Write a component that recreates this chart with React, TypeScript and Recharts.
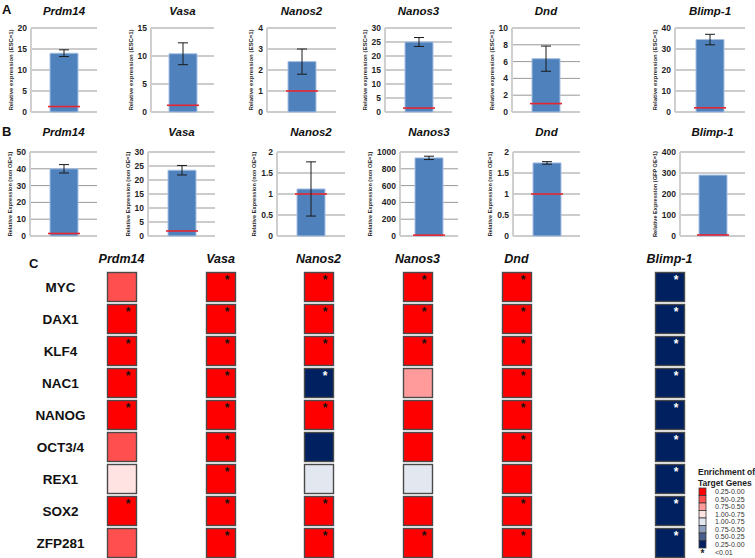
import { BarChart, Bar, XAxis, YAxis, CartesianGrid, ErrorBar, ScatterChart, Scatter } from 'recharts';

const FONT = '"Liberation Sans", Arial, sans-serif';

const genes = ['Prdm14', 'Vasa', 'Nanos2', 'Nanos3', 'Dnd', 'Blimp-1'];

// Panel A: relative expression, ESC = 1
const escValues = [14, 10.4, 2.4, 25, 6.35, 34.5];
const escErrors = [0.8, 1.95, 0.6, 1.6, 1.5, 2.5];
const escBaseline = [1.3, 1.2, 1, 1.4, 1, 2];
const escTicks = [
  [0, 5, 10, 15, 20],
  [0, 5, 10, 15],
  [0, 1, 2, 3, 4],
  [0, 5, 10, 15, 20, 25, 30],
  [0, 2, 4, 6, 8, 10],
  [0, 10, 20, 30, 40],
];
const escLabels = Array(6).fill('Relative expression (ESC=1)');

// Panel B: relative expression, non OE = 1
const oeValues = [40, 23.5, 1.12, 930, 1.74, 290];
const oeErrors = [2.5, 1.7, 0.645, 20, 0.03, 0];
const oeBaseline = [1.5, 1.8, 1, 10, 1, 5];
const oeTicks = [
  [0, 10, 20, 30, 40, 50],
  [0, 5, 10, 15, 20, 25, 30],
  [0, 0.5, 1, 1.5, 2],
  [0, 200, 400, 600, 800, 1000],
  [0, 0.5, 1, 1.5, 2],
  [0, 100, 200, 300, 400],
];
const oeLabels = [
  'Relative Expression (non OE=1)',
  'Relative Expression (non OE=1)',
  'Relative Expression (non OE=1)',
  'Relative Expression (non OE=1)',
  'Relative Expression (non OE=1)',
  'Relative Expression (GFP OE=1)',
];

// Panel C: enrichment level (1..8 = legend rows) and significance per target
const targets = ['MYC', 'DAX1', 'KLF4', 'NAC1', 'NANOG', 'OCT3/4', 'REX1', 'SOX2', 'ZFP281'];
const levelPrdm14 = [2, 1, 1, 1, 1, 2, 4, 1, 2];
const sigPrdm14 = [0, 1, 1, 1, 1, 0, 0, 1, 0];
const levelVasa = [1, 1, 1, 1, 1, 1, 1, 1, 1];
const sigVasa = [1, 1, 1, 1, 1, 1, 1, 1, 1];
const levelNanos2 = [1, 1, 1, 8, 1, 8, 5, 1, 1];
const sigNanos2 = [1, 1, 1, 1, 1, 0, 0, 1, 1];
const levelNanos3 = [1, 1, 1, 3, 1, 1, 5, 1, 1];
const sigNanos3 = [1, 1, 1, 0, 0, 0, 0, 0, 1];
const levelDnd = [1, 1, 1, 1, 1, 1, 1, 1, 1];
const sigDnd = [1, 1, 1, 1, 1, 1, 0, 1, 1];
const levelBlimp = [8, 8, 8, 8, 8, 8, 8, 8, 8];
const sigBlimp = [1, 1, 1, 1, 1, 1, 1, 1, 1];
const heatLevels = [levelPrdm14, levelVasa, levelNanos2, levelNanos3, levelDnd, levelBlimp];
const heatSig = [sigPrdm14, sigVasa, sigNanos2, sigNanos3, sigDnd, sigBlimp];

const legendLabels = ['0.25-0.00', '0.50-0.25', '0.75-0.50', '1.00-0.75', '1.00-0.75', '0.75-0.50', '0.50-0.25', '0.25-0.00'];
const legendColors = ['#ff0000', '#ff4f4f', '#ff9b9b', '#ffe3e3', '#e3e7ef', '#8d9dbd', '#475d8c', '#002060'];

// layout (plot areas in page pixels)
const escPlotX = [[31, 97], [151, 214], [267, 336], [385, 452], [512, 580], [675, 745]];
const oePlotX = [[30, 97], [148, 215], [277, 345], [400, 458], [513, 580], [680, 745]];
const ESC_Y = [28, 112];
const OE_Y = [152, 236];
const heatCenters = [121.5, 220.5, 318.5, 417.5, 516.5, 669.5];
const HEAT_TOP = 271;
const ROW_H = 32;
const TICK_FS = 8.5;

// rough width of the widest tick label, to size the y axis
function tickTextWidth(ticks: number[]) {
  let w = 0;
  for (const t of ticks) {
    let s = 0;
    for (const ch of String(t)) s += ch === '.' ? 0.278 : 0.556;
    w = Math.max(w, s * TICK_FS);
  }
  return w;
}

function BaseLine(props: any) {
  const { x, y, width } = props;
  return <line x1={x} x2={x + width} y1={y} y2={y} stroke="#e8262f" strokeWidth={1.6} />;
}

function ExprChart({ gene, value, err, base, ticks, label, labelSize, px, py }: any) {
  const axisW = Math.round(tickTextWidth(ticks) + 4 + 11);
  const m = { top: 4, right: 3, bottom: 4, left: 0 };
  const width = px[1] - px[0] + axisW + m.right;
  const height = py[1] - py[0] + m.top + m.bottom;
  const data = [{ gene, value, err, base }];
  return (
    <div style={{ position: 'absolute', left: px[0] - axisW, top: py[0] - m.top }}>
      <BarChart width={width} height={height} data={data} margin={m}>
        <CartesianGrid vertical={false} stroke="#999999" />
        <XAxis dataKey="gene" hide />
        <XAxis xAxisId="base" dataKey="gene" hide />
        <YAxis
          domain={[0, ticks[ticks.length - 1]]}
          ticks={ticks}
          interval={0}
          width={axisW}
          tickLine={false}
          tickSize={0}
          tickMargin={4}
          axisLine={{ stroke: '#cfcfcf', strokeWidth: 2 }}
          tick={{ fontSize: TICK_FS, fontWeight: 700, fill: '#1f1f1f', fontFamily: FONT }}
          label={{
            value: label,
            angle: -90,
            position: 'insideLeft',
            offset: 4,
            style: { fontSize: labelSize, fontWeight: 700, fill: '#2a2a2a', textAnchor: 'middle', fontFamily: FONT },
          }}
        />
        <Bar dataKey="value" barSize={28} fill="#4f81bd" stroke="#a7c0e3" strokeWidth={1} isAnimationActive={false}>
          {err > 0 && <ErrorBar dataKey="err" width={5} stroke="#1a1a1a" strokeWidth={1} direction="y" />}
        </Bar>
        <Bar xAxisId="base" dataKey="base" barSize={32} isAnimationActive={false} shape={BaseLine} />
      </BarChart>
    </div>
  );
}

function HeatCell(props: any) {
  const { cx, cy, payload } = props;
  const s = 29;
  const fill = legendColors[payload.level - 1];
  const dark = payload.level >= 7;
  return (
    <g>
      <rect x={cx - s / 2} y={cy - s / 2} width={s} height={s} fill={fill} stroke="#4a4a4a" strokeWidth={1.4} />
      {payload.sig ? (
        <text x={cx + 6} y={cy - 3.5} textAnchor="middle" fontSize={12} fontWeight={700} fill={dark ? '#fff' : '#111'} fontFamily={FONT}>
          *
        </text>
      ) : null}
    </g>
  );
}

function RowTick(props: any) {
  const { x, y, payload } = props;
  return (
    <text x={x - 41.5} y={y} textAnchor="middle" dominantBaseline="central" fontSize={13.5} fontWeight={700} fill="#111" fontFamily={FONT}>
      {payload.value}
    </text>
  );
}

function HeatColumn({ gene, levels, sig, cx, withRows }: any) {
  const rowW = withRows ? 100 : 0;
  const colW = 40;
  const data = targets.map((t, i) => ({ gene, target: t, level: levels[i], sig: sig[i] }));
  return (
    <div style={{ position: 'absolute', left: cx - colW / 2 - rowW, top: HEAT_TOP }}>
      <ScatterChart width={colW + rowW} height={targets.length * ROW_H} margin={{ top: 0, right: 0, bottom: 0, left: 0 }}>
        <XAxis type="category" dataKey="gene" allowDuplicatedCategory={false} hide />
        <YAxis
          type="category"
          dataKey="target"
          reversed
          width={rowW}
          hide={!withRows}
          axisLine={false}
          tickLine={false}
          tickSize={0}
          tickMargin={0}
          interval={0}
          tick={<RowTick />}
        />
        <Scatter data={data} shape={HeatCell} isAnimationActive={false} />
      </ScatterChart>
    </div>
  );
}

export default function App() {
  const titleStyle = { fontFamily: FONT, fontWeight: 700, fontStyle: 'italic' as const };
  return (
    <div style={{ position: 'absolute', left: 0, top: 0, width: 755, height: 558, background: '#fff', overflow: 'hidden', fontFamily: FONT }}>
      {genes.map((g, i) => (
        <ExprChart
          key={'a' + g}
          gene={g}
          value={escValues[i]}
          err={escErrors[i]}
          base={escBaseline[i]}
          ticks={escTicks[i]}
          label={escLabels[i]}
          labelSize={6}
          px={escPlotX[i]}
          py={ESC_Y}
        />
      ))}
      {genes.map((g, i) => (
        <ExprChart
          key={'b' + g}
          gene={g}
          value={oeValues[i]}
          err={oeErrors[i]}
          base={oeBaseline[i]}
          ticks={oeTicks[i]}
          label={oeLabels[i]}
          labelSize={5.6}
          px={oePlotX[i]}
          py={OE_Y}
        />
      ))}
      {genes.map((g, i) => (
        <HeatColumn key={'c' + g} gene={g} levels={heatLevels[i]} sig={heatSig[i]} cx={heatCenters[i]} withRows={i === 0} />
      ))}
      <svg width={755} height={558} style={{ position: 'absolute', left: 0, top: 0, pointerEvents: 'none' }}>
        <text x={2} y={14} fontSize={13} fontWeight={700} fill="#111">A</text>
        <text x={2} y={136} fontSize={13} fontWeight={700} fill="#111">B</text>
        <text x={29} y={268} fontSize={13} fontWeight={700} fill="#111">C</text>
        {genes.map((g, i) => (
          <text key={'ta' + g} x={(escPlotX[i][0] + escPlotX[i][1]) / 2} y={15} textAnchor="middle" fontSize={11.5} style={titleStyle} fill="#111">
            {g}
          </text>
        ))}
        {genes.map((g, i) => (
          <text key={'tb' + g} x={(oePlotX[i][0] + oePlotX[i][1]) / 2} y={136} textAnchor="middle" fontSize={11.5} style={titleStyle} fill="#111">
            {g}
          </text>
        ))}
        {genes.map((g, i) => (
          <text key={'tc' + g} x={heatCenters[i]} y={263} textAnchor="middle" fontSize={12.5} style={titleStyle} fill="#111">
            {g}
          </text>
        ))}
        <text x={698} y={475} fontSize={8.5} fontWeight={700} fill="#222">Enrichment of</text>
        <text x={698} y={486} fontSize={8.5} fontWeight={700} fill="#222">Target Genes</text>
        {legendLabels.map((l, i) => (
          <g key={'lg' + i}>
            <rect x={699} y={488 + i * 7.5} width={7} height={7.5} fill={legendColors[i]} stroke="#3a3a3a" strokeWidth={0.8} />
            <text x={715} y={488 + i * 7.5 + 3.9} dominantBaseline="central" fontSize={7} fill="#333">{l}</text>
          </g>
        ))}
        <text x={702.5} y={556.5} textAnchor="middle" fontSize={10} fontWeight={700} fill="#222">*</text>
        <text x={715} y={552.5} dominantBaseline="central" fontSize={7} fill="#333">{'<0.01'}</text>
      </svg>
    </div>
  );
}
